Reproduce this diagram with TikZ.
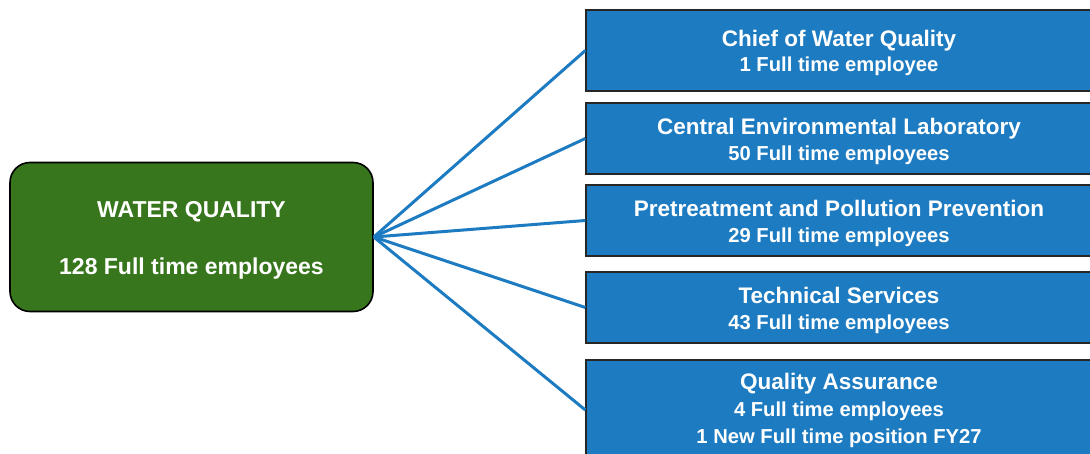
\documentclass[tikz,border=0pt]{standalone}
\usepackage{fontspec}
\setmainfont{Liberation Sans}
\definecolor{wqgreen}{HTML}{38761D}
\definecolor{wqblue}{HTML}{1D7BC1}
\begin{document}
\begin{tikzpicture}[x=1pt,y=1pt,
  greenbox/.style={draw=black, line width=1.6pt, fill=wqgreen, rounded corners=20pt,
    minimum width=363pt, minimum height=149pt, inner sep=0pt},
  bluebox/.style={draw=black!85, line width=1.3pt, fill=wqblue, minimum width=506pt, inner sep=0pt},
  greentext/.style={text=white, align=center, font=\bfseries\fontsize{23}{26}\selectfont, inner sep=0pt},
  bluetext/.style={text=white, align=center, font=\bfseries\fontsize{20.2}{25}\selectfont, inner sep=0pt},
  link/.style={draw=wqblue, line width=3pt},
]
\useasboundingbox (0,0) rectangle (1090,-454);
\clip (0,0) rectangle (1090,-454);
\newcommand{\ttlfont}{\fontsize{22.5}{25}\selectfont}
\newcommand{\subfont}{\fontsize{20.2}{25}\selectfont}
\node[greenbox] (wq) at (191.5,-237) {};
\node[greentext] (wqt) at ([yshift=-3pt]wq.center) {WATER QUALITY\\[31pt]128 Full time employees};
\node[bluebox, minimum height=81pt] (b1) at (839,-50.5) {};
\node[bluebox, minimum height=71pt] (b2) at (839,-138.5) {};
\node[bluebox, minimum height=71pt] (b3) at (839,-220.5) {};
\node[bluebox, minimum height=71pt] (b4) at (839,-307.5) {};
\node[bluebox, minimum height=100pt] (b5) at (839,-410) {};
\node[bluetext] (t1) at ([yshift=-2.5pt]b1.center) {\ttlfont Chief of Water Quality\\[0.5pt]\subfont 1 Full time employee};
\node[bluetext] (t2) at ([yshift=-3pt]b2.center) {\ttlfont Central Environmental Laboratory\\[0.5pt]\subfont 50 Full time employees};
\node[bluetext] (t3) at ([yshift=-3pt]b3.center) {\ttlfont Pretreatment and Pollution Prevention\\[0.5pt]\subfont 29 Full time employees};
\node[bluetext] (t4) at ([yshift=-3pt]b4.center) {\ttlfont Technical Services\\[0.5pt]\subfont 43 Full time employees};
\node[bluetext] (t5) at ([yshift=-0.5pt]b5.center) {\ttlfont Quality Assurance\\[1.5pt]\subfont 4 Full time employees\\[2.5pt]\subfont 1 New Full time position FY27};
\foreach \b in {b1,b2,b3,b4,b5} \draw[link] (wq.east) -- (\b.west);
\end{tikzpicture}
\end{document}
